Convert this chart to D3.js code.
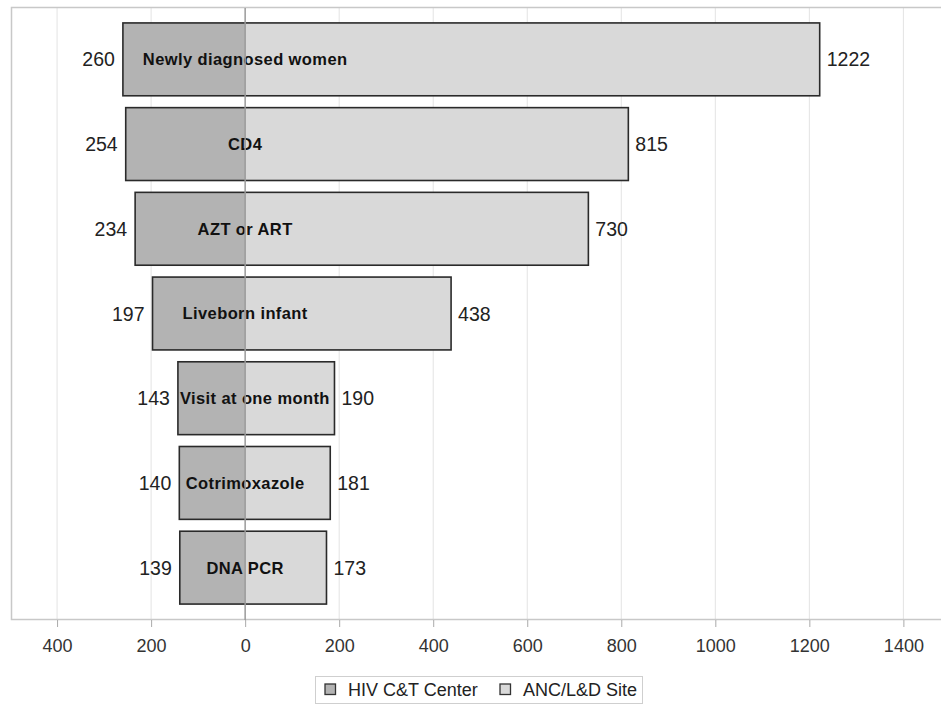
<!DOCTYPE html>
<html><head><meta charset="utf-8">
<script src="https://cdn.jsdelivr.net/npm/d3@7"></script>
<style>body{margin:0;background:#fff}svg{display:block;font-family:"Liberation Sans",Arial,sans-serif}</style>
</head><body>
<script>
const categories = ["Newly diagnosed women","CD4","AZT or ART","Liveborn infant","Visit at one month","Cotrimoxazole","DNA PCR"];
const hivCT = [260,254,234,197,143,140,139];
const ancLD = [1222,815,730,438,190,181,173];
const tickValues = [-400,-200,0,200,400,600,800,1000,1200,1400];
const seriesNames = ["HIV C&T Center","ANC/L&D Site"];

const W=941,H=705;
const svg=d3.select("body").append("svg").attr("width",W).attr("height",H);
const x=d3.scaleLinear().domain([-498,1480]).range([11,941]);
const y=d3.scaleBand().domain(categories).range([17,610]).paddingInner(0.14).paddingOuter(0.07);

// gridlines
svg.append("g").selectAll("line").data(tickValues.filter(d=>d!==0)).join("line")
 .attr("x1",d=>x(d)).attr("x2",d=>x(d)).attr("y1",8).attr("y2",620)
 .attr("stroke","#e3e3e3").attr("stroke-width",1);

// frame
svg.append("rect").attr("x",11.5).attr("y",7.5).attr("width",940).attr("height",612)
 .attr("fill","none").attr("stroke","#c8c8c8").attr("stroke-width",1.5);

const rows=svg.append("g").selectAll("g").data(categories).join("g");
rows.append("rect").attr("x",(d,i)=>x(-hivCT[i])).attr("y",d=>y(d))
 .attr("width",(d,i)=>x(0)-x(-hivCT[i])).attr("height",y.bandwidth()).attr("fill","#b3b3b3");
rows.append("rect").attr("x",x(0)).attr("y",d=>y(d))
 .attr("width",(d,i)=>x(ancLD[i])-x(0)).attr("height",y.bandwidth()).attr("fill","#d9d9d9");
rows.append("rect").attr("x",(d,i)=>x(-hivCT[i])).attr("y",d=>y(d))
 .attr("width",(d,i)=>x(ancLD[i])-x(-hivCT[i])).attr("height",y.bandwidth())
 .attr("fill","none").attr("stroke","#2a2a2a").attr("stroke-width",1.6);

// zero line
svg.append("line").attr("x1",x(0)).attr("x2",x(0)).attr("y1",8).attr("y2",620)
 .attr("stroke","#9a9a9a").attr("stroke-width",1.5);

rows.append("text").attr("x",(d,i)=>x(-hivCT[i])-8).attr("y",d=>y(d)+y.bandwidth()/2)
 .attr("dy","0.36em").attr("text-anchor","end").attr("font-size",19.5).attr("fill","#222")
 .text((d,i)=>hivCT[i]);
rows.append("text").attr("x",(d,i)=>x(ancLD[i])+7).attr("y",d=>y(d)+y.bandwidth()/2)
 .attr("dy","0.36em").attr("text-anchor","start").attr("font-size",19.5).attr("fill","#222")
 .text((d,i)=>ancLD[i]);
rows.append("text").attr("y",d=>y(d)+y.bandwidth()/2)
 .attr("dy","0.36em").attr("text-anchor","start").attr("font-size",16.5).attr("font-weight","bold")
 .attr("letter-spacing","0.4px").attr("fill","#111")
 .text(d=>d)
 .each(function(d,i){
   const w=this.getComputedTextLength();
   const left=Math.max(x(0)-w/2, x(-hivCT[i])+2);
   d3.select(this).attr("x",left);
 });

// axis
const ax=svg.append("g").attr("transform","translate(0,620)")
 .call(d3.axisBottom(x).tickValues(tickValues).tickSize(7).tickPadding(12).tickFormat(d=>Math.abs(d)));
ax.select(".domain").remove();
ax.selectAll("line").attr("stroke","#aaa");
ax.selectAll("text").attr("font-size",18).attr("fill","#333").attr("font-family","Liberation Sans, Arial, sans-serif");

// legend
const lg=svg.append("g");
lg.append("rect").attr("x",315.5).attr("y",676.5).attr("width",327).attr("height",27).attr("fill","#fff").attr("stroke","#cfcfcf");
const fills=["#b3b3b3","#d9d9d9"];
const lx=[325,500];
seriesNames.forEach((n,i)=>{
 lg.append("rect").attr("x",lx[i]).attr("y",684).attr("width",10.5).attr("height",10.5).attr("fill",fills[i]).attr("stroke","#333").attr("stroke-width",1.3);
 lg.append("text").attr("x",lx[i]+23).attr("y",690).attr("dy","0.36em").attr("font-size",18).attr("fill","#222").text(n);
});
</script>
</body></html>
